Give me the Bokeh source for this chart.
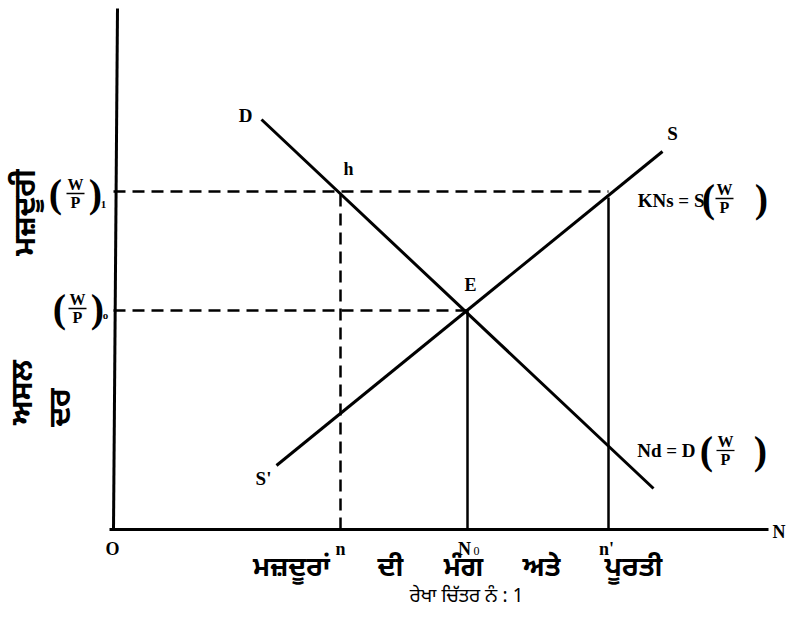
import math
from bokeh.plotting import figure
from bokeh.models import Range1d
from bokeh.core.properties import value
from bokeh.embed import file_html
from bokeh.resources import INLINE

# ---- data (diagram units: origin O at (0, 0)) ----
wage_names = ["W/P1", "W/P0"]
wage_levels = [338, 219]
emp_names = ["n", "N0", "n'"]
emp_levels = [227, 354, 495]
demand_x = [148, 540]
demand_y = [410, 41]
supply_x = [163, 549]
supply_y = [64, 378]
axis_x_end = 655
axis_y_end = 521
title_words = ["ਮਜ਼ਦੂਰਾਂ", "ਦੀ", "ਮੰਗ", "ਅਤੇ", "ਪੂਰਤੀ"]
caption = "ਰੇਖਾ ਚਿੱਤਰ ਨੰ : 1"
ylabel_parts = ["ਅਸਲ", "ਮਜ਼ਦੂਰੀ", "ਦਰ"]

SERIF = value("Liberation Serif")
GURM = value("Noto Sans Gurmukhi, Noto Sans, sans-serif")

p = figure(width=788, height=617, x_range=Range1d(-113, 675), y_range=Range1d(-88, 529),
           output_backend="svg", toolbar_location=None, x_axis_type=None, y_axis_type=None,
           min_border=0, outline_line_color=None)
p.grid.visible = False

w1, w0 = wage_levels
n_, N0, n2 = emp_levels

# axes
p.line([0, 4], [0, axis_y_end], line_width=3, color="black")
p.line([-4, axis_x_end], [0, 0], line_width=3, color="black")

# dashed guides
dash = "12 7"
p.line([0, n2], [w1, w1], line_width=2.5, color="black", line_dash=dash)
p.line([0, N0], [w0, w0], line_width=2.5, color="black", line_dash=dash)
p.line([n_, n_], [0, w1], line_width=2.5, color="black", line_dash=dash)
# solid verticals
p.line([N0, N0], [0, w0], line_width=2.5, color="black")
p.line([n2, n2], [0, w1 - 6], line_width=2.5, color="black")

# curves
p.line(demand_x, demand_y, line_width=3, color="black")
p.line(supply_x, supply_y, line_width=3, color="black")

def label(x, y, t, size=18, align="center", font=SERIF, style="bold", angle=0):
    p.text(x=[x], y=[y], text=[t], text_font=font, text_font_size=f"{size}px",
           text_font_style=style, text_align=align, text_baseline="middle",
           text_color="black", angle=angle)

def frac(cx, cy, lx, rx, sub=None, sub_dx=0, sub_dy=-10):
    label(cx + lx, cy, "(", size=40, style="bold")
    label(cx + rx, cy, ")", size=40, style="bold")
    label(cx, cy + 9, "W", size=16)
    label(cx, cy - 9, "P", size=16)
    p.line([cx - 9, cx + 9], [cy, cy], line_width=1.3, color="black")
    if sub is not None:
        label(cx + sub_dx, cy + sub_dy, sub, size=11)

# point labels
label(132, 414, "D", 19)
label(235, 361, "h", 18)
label(357, 245, "E", 18)
label(559, 396, "S", 19)
label(150, 51, "S'", 19)
label(-1, -19, "O", 18)
label(n_, -19, "n", 18)
label(N0 - 3, -19, "N", 18)
label(N0 + 9, -21, "0", 12, style="normal")
label(n2 - 2, -19, "n'", 18)
label(659, -2, "N", 18, align="left")

# fraction labels on y-axis
frac(-38, 336, -20, 20, "1", 28, -11)
frac(-36, 221, -18, 20, "o", 28, -6)

# curve equations
label(591, 329, "KNs = S", 19, align="right")
frac(611, 331, -16, 37)
label(582, 79, "Nd = D", 19, align="right")
frac(612, 79, -19, 35)

# Gurmukhi texts
for x, t in zip([178, 277, 350, 428, 520], title_words):
    label(x, -40, t, 27, font=GURM, style="bold")
label(353, -68, caption, 19, font=GURM, style="normal")
label(-89, 137, ylabel_parts[0], 30, font=GURM, style="bold", angle=math.pi / 2)
label(-86, 317, ylabel_parts[1], 30, font=GURM, style="bold", angle=math.pi / 2)
label(-51, 122, ylabel_parts[2], 30, font=GURM, style="bold", angle=math.pi / 2)

open("out.html", "w").write(file_html(p, INLINE))
